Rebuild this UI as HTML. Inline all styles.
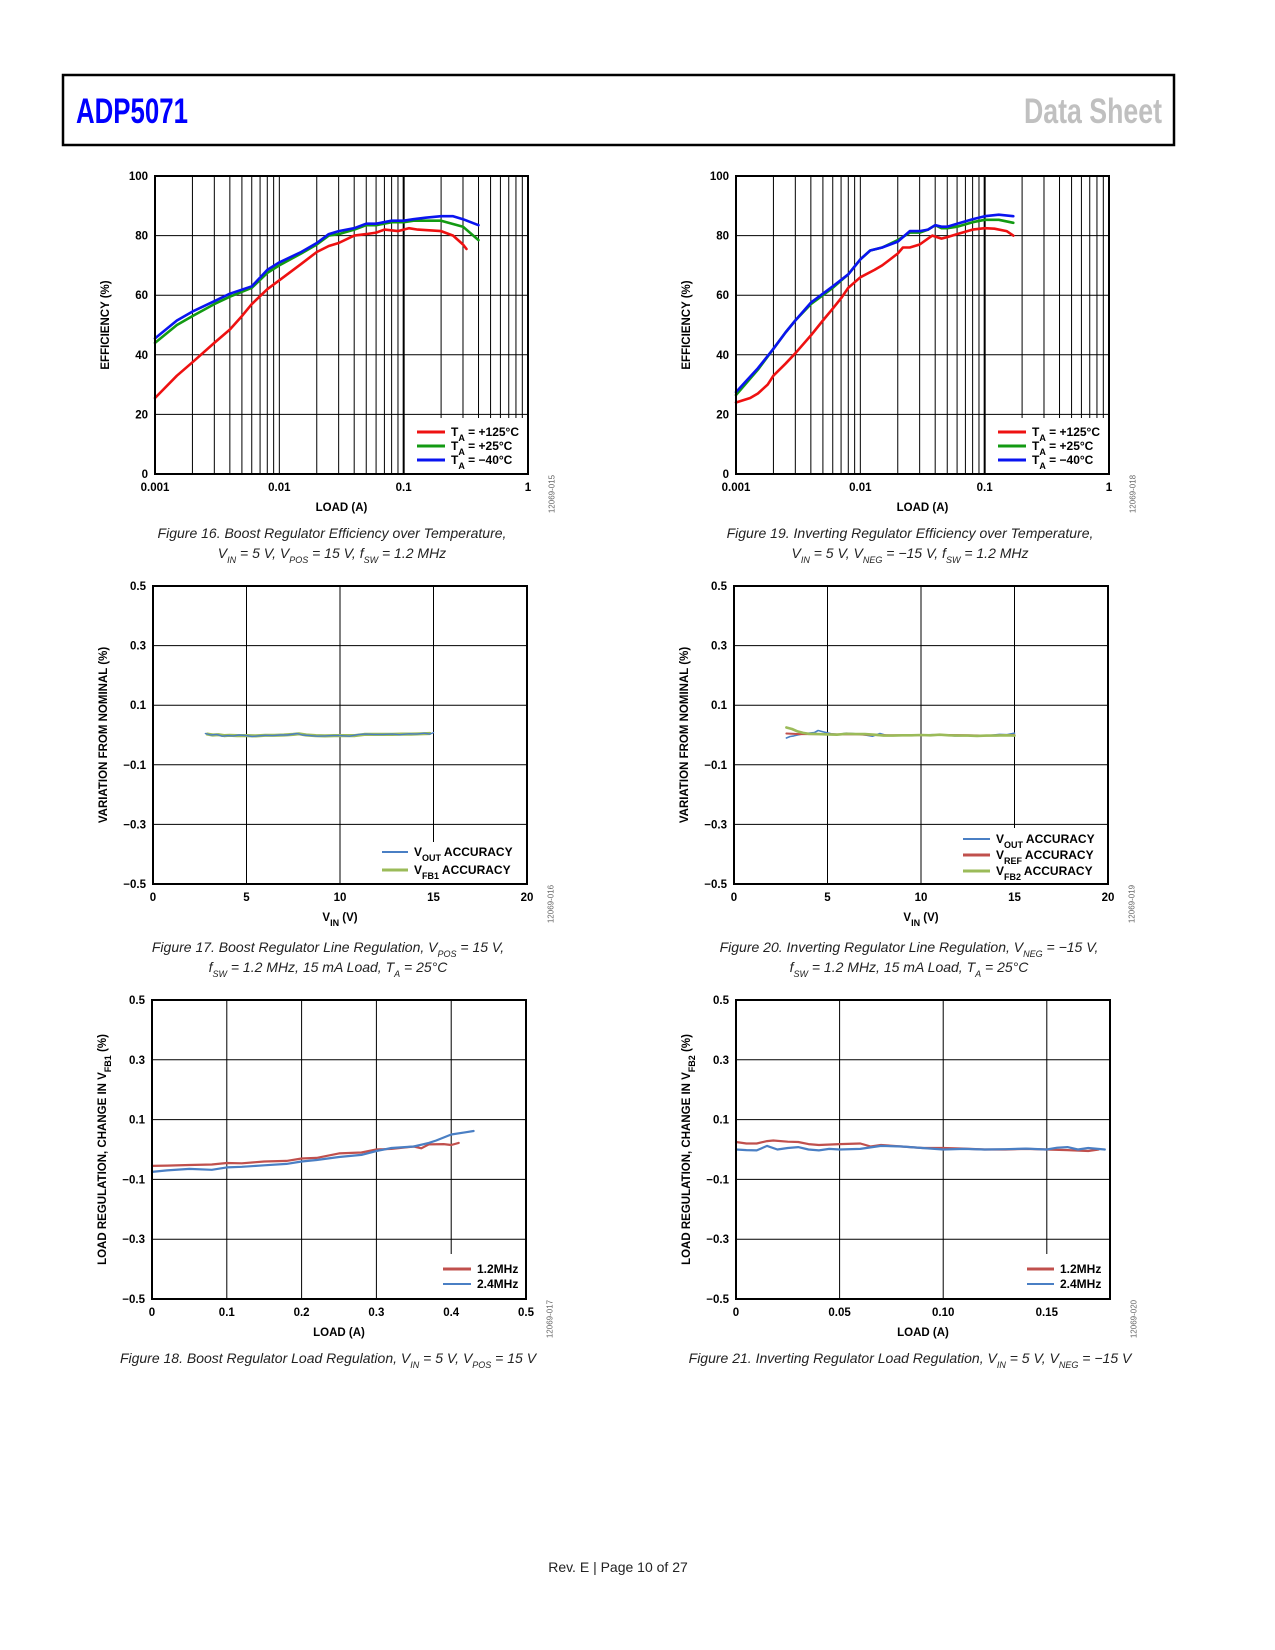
<!DOCTYPE html>
<html><head><meta charset="utf-8"><title>ADP5071 Data Sheet page 10</title>
<style>
html,body{margin:0;padding:0;background:#fff;}
svg{display:block;font-family:"Liberation Sans",Arial,sans-serif;}
.tk{font-size:11.5px;font-weight:bold;fill:#000;}
.at{font-size:11.5px;font-weight:bold;fill:#000;}
.lg{font-size:12px;font-weight:bold;fill:#000;}
.cap{font-size:14px;font-style:italic;fill:#222;}
.code{font-size:8px;fill:#666;}
</style></head>
<body>
<svg id="page" width="1275" height="1650" viewBox="0 0 1275 1650" xmlns="http://www.w3.org/2000/svg">
  <rect x="63" y="75" width="1111" height="70" fill="#fff" stroke="#000" stroke-width="2.5"/>
  <text x="76" y="123" font-size="35" font-weight="bold" fill="#0000ff" textLength="112" lengthAdjust="spacingAndGlyphs">ADP5071</text>
  <text x="1024" y="123" font-size="35" font-weight="bold" fill="#c0c0c0" textLength="138" lengthAdjust="spacingAndGlyphs">Data Sheet</text>

  <text class="cap" text-anchor="middle"><tspan x="332" y="538">Figure 16. Boost Regulator Efficiency over Temperature,</tspan><tspan x="332" y="558">V<tspan font-size="9" baseline-shift="sub">IN</tspan> = 5 V, V<tspan font-size="9" baseline-shift="sub">POS</tspan> = 15 V, f<tspan font-size="9" baseline-shift="sub">SW</tspan> = 1.2 MHz</tspan></text>
  <text class="cap" text-anchor="middle"><tspan x="910" y="538">Figure 19. Inverting Regulator Efficiency over Temperature,</tspan><tspan x="910" y="558">V<tspan font-size="9" baseline-shift="sub">IN</tspan> = 5 V, V<tspan font-size="9" baseline-shift="sub">NEG</tspan> = −15 V, f<tspan font-size="9" baseline-shift="sub">SW</tspan> = 1.2 MHz</tspan></text>
  <text class="cap" text-anchor="middle"><tspan x="328" y="952">Figure 17. Boost Regulator Line Regulation, V<tspan font-size="9" baseline-shift="sub">POS</tspan> = 15 V,</tspan><tspan x="328" y="972">f<tspan font-size="9" baseline-shift="sub">SW</tspan> = 1.2 MHz, 15 mA Load, T<tspan font-size="9" baseline-shift="sub">A</tspan> = 25°C</tspan></text>
  <text class="cap" text-anchor="middle"><tspan x="909" y="952">Figure 20. Inverting Regulator Line Regulation, V<tspan font-size="9" baseline-shift="sub">NEG</tspan> = −15 V,</tspan><tspan x="909" y="972">f<tspan font-size="9" baseline-shift="sub">SW</tspan> = 1.2 MHz, 15 mA Load, T<tspan font-size="9" baseline-shift="sub">A</tspan> = 25°C</tspan></text>
  <text class="cap" text-anchor="middle" x="328" y="1363">Figure 18. Boost Regulator Load Regulation, V<tspan font-size="9" baseline-shift="sub">IN</tspan> = 5 V, V<tspan font-size="9" baseline-shift="sub">POS</tspan> = 15 V</text>
  <text class="cap" text-anchor="middle" x="910" y="1363">Figure 21. Inverting Regulator Load Regulation, V<tspan font-size="9" baseline-shift="sub">IN</tspan> = 5 V, V<tspan font-size="9" baseline-shift="sub">NEG</tspan> = −15 V</text>

  <text x="618" y="1572" text-anchor="middle" font-size="14" fill="#222">Rev. E | Page 10 of 27</text>
</svg>
<script>
// ---------- Figure 16 data (boost efficiency) ----------
const eff1RedX=[0.001,0.0015,0.002,0.003,0.004,0.005,0.006,0.008,0.01,0.015,0.02,0.025,0.03,0.04,0.05,0.06,0.07,0.09,0.11,0.13,0.2,0.25,0.3,0.32];
const eff1RedY=[25.5,33,37.5,44,48.5,53,57,62,65,70.5,74.5,76.5,77.5,80,80.5,81,82,81.5,82.5,82,81.5,80,77,75.5];
const eff1GreenX=[0.001,0.0015,0.002,0.003,0.004,0.006,0.008,0.01,0.015,0.02,0.025,0.03,0.04,0.05,0.06,0.08,0.1,0.12,0.15,0.2,0.3,0.4];
const eff1GreenY=[44,50,53,57,59.5,62.5,67.5,70,74,77,80,80.5,82,83.5,83.5,84.5,84.5,85,85,85,83,78.5];
const eff1BlueX=[0.001,0.0015,0.002,0.003,0.004,0.006,0.008,0.01,0.015,0.02,0.025,0.03,0.04,0.05,0.06,0.08,0.1,0.12,0.15,0.2,0.25,0.3,0.4];
const eff1BlueY=[45.5,51.5,54.5,58,60.5,63,68.5,71,74.5,77.5,80.5,81.5,82.5,84,84,85,85,85.5,86,86.5,86.5,85.5,83.5];
// ---------- Figure 19 data (inverting efficiency) ----------
const eff2RedX=[0.001,0.0013,0.0015,0.0018,0.002,0.0025,0.003,0.004,0.005,0.006,0.007,0.008,0.01,0.013,0.015,0.02,0.022,0.025,0.03,0.035,0.038,0.045,0.05,0.06,0.08,0.1,0.12,0.15,0.17];
const eff2RedY=[24,25.5,27,30,33,37,40.5,46.5,51.5,55.5,59,62.5,66,68.5,70,74,76,76,77,79,80,79,79.5,80.5,82,82.5,82.3,81.5,80];
const eff2GreenX=[0.001,0.0015,0.002,0.0025,0.003,0.004,0.005,0.006,0.008,0.01,0.012,0.015,0.02,0.025,0.03,0.035,0.04,0.045,0.05,0.06,0.08,0.1,0.13,0.17];
const eff2GreenY=[26.5,35,42,47.5,51.5,57,60,62.5,67,72,75,76,78.5,81,81,82,83.5,82.5,82.5,83,84.5,85.3,85.3,84.3];
const eff2BlueX=[0.001,0.0015,0.002,0.0025,0.003,0.004,0.005,0.006,0.008,0.01,0.012,0.015,0.02,0.025,0.03,0.035,0.04,0.045,0.05,0.06,0.08,0.1,0.13,0.17];
const eff2BlueY=[27.5,35.5,42,47.5,51.5,57.5,60.5,63,67,72,75,76,78,81.5,81.5,82,83.5,83,83,84,85.5,86.5,87,86.5];
// ---------- Figure 17 data (boost line regulation) ----------
const line1VoutX=[2.8,3.1,3.4,3.7,4.0,4.3,4.6,5.0,5.3,5.6,6.0,6.4,6.8,7.2,7.7,8.0,8.4,8.8,9.2,9.6,10.0,10.5,11.0,11.4,11.8,12.3,12.8,13.2,13.7,14.1,14.5,14.8,15.0];
const line1VoutY=[0.005,0.0,0.002,-0.004,-0.002,-0.003,0.0,-0.002,-0.005,-0.003,-0.001,-0.002,0.0,0.0,0.005,0.0,-0.002,-0.004,-0.003,-0.002,-0.002,-0.004,0.002,0.003,0.002,0.002,0.003,0.001,0.004,0.003,0.006,0.003,0.008];
const line1Vfb1X=[2.9,3.2,3.5,3.8,4.1,4.5,5.0,5.5,6.0,6.5,7.0,7.5,7.8,8.2,8.7,9.2,9.7,10.2,10.8,11.3,11.8,12.3,12.8,13.3,13.8,14.3,14.8];
const line1Vfb1Y=[0.003,0.0,0.001,-0.002,-0.001,-0.002,-0.002,-0.003,-0.001,-0.001,0.0,0.002,0.004,0.0,-0.002,-0.003,-0.002,-0.002,-0.002,0.002,0.002,0.002,0.002,0.003,0.003,0.004,0.005];
// ---------- Figure 20 data (inverting line regulation) ----------
const line2VoutX=[2.8,3.0,3.2,3.4,3.7,4.0,4.3,4.5,4.8,5.2,5.6,6.0,6.5,7.0,7.4,7.8,8.2,8.8,9.4,10.0,10.6,11.2,11.8,12.4,13.0,13.6,14.2,14.6,15.0];
const line2VoutY=[-0.01,-0.005,-0.003,0.0,0.004,0.006,0.008,0.015,0.01,0.004,0.002,0.006,0.004,0.0,-0.004,0.005,-0.002,-0.002,0.0,0.0,0.001,0.0,-0.003,-0.002,-0.004,-0.002,0.002,0.001,0.006];
const line2VrefX=[2.8,3.5,4.5,5.5,6.5,7.5,8.5,9.5,10.5,11.5,12.5,13.5,14.5,15.0];
const line2VrefY=[0.005,0.003,0.003,0.002,0.002,0.0,-0.001,-0.001,0.0,0.0,-0.001,-0.002,-0.001,0.0];
const line2Vfb2X=[2.8,3.1,3.4,3.7,4.0,4.5,5.0,5.5,6.0,6.5,7.0,7.5,8.0,8.5,9.0,9.5,10.0,10.5,11.0,11.5,12.0,12.5,13.0,13.5,14.0,14.5,15.0];
const line2Vfb2Y=[0.025,0.02,0.012,0.007,0.004,0.003,0.002,0.001,0.004,0.003,0.003,0.001,-0.002,-0.002,-0.001,-0.001,0.0,-0.001,0.001,-0.001,-0.002,-0.002,-0.003,-0.002,-0.002,-0.001,-0.002];
// ---------- Figure 18 data (boost load regulation) ----------
const load1RedX=[0,0.02,0.05,0.08,0.1,0.12,0.15,0.18,0.2,0.22,0.25,0.28,0.3,0.32,0.35,0.36,0.37,0.39,0.4,0.41];
const load1RedY=[-0.055,-0.054,-0.052,-0.05,-0.045,-0.046,-0.04,-0.038,-0.03,-0.028,-0.013,-0.01,0.0,0.002,0.01,0.004,0.017,0.018,0.015,0.022];
const load1BlueX=[0,0.02,0.05,0.08,0.1,0.12,0.15,0.18,0.2,0.22,0.25,0.28,0.3,0.32,0.35,0.37,0.38,0.4,0.42,0.43];
const load1BlueY=[-0.075,-0.07,-0.065,-0.068,-0.06,-0.058,-0.053,-0.048,-0.04,-0.035,-0.025,-0.018,-0.005,0.005,0.01,0.022,0.03,0.05,0.058,0.062];
// ---------- Figure 21 data (inverting load regulation) ----------
const load2RedX=[0,0.005,0.01,0.015,0.018,0.025,0.03,0.035,0.04,0.05,0.06,0.065,0.07,0.08,0.09,0.1,0.11,0.12,0.13,0.14,0.15,0.16,0.17,0.175];
const load2RedY=[0.025,0.02,0.02,0.028,0.03,0.026,0.025,0.018,0.015,0.018,0.02,0.01,0.015,0.01,0.005,0.005,0.003,0.0,0.0,0.002,0.0,-0.002,-0.005,0.0];
const load2BlueX=[0,0.005,0.01,0.015,0.02,0.025,0.03,0.035,0.04,0.045,0.05,0.06,0.07,0.08,0.09,0.1,0.11,0.12,0.13,0.14,0.15,0.155,0.16,0.165,0.17,0.178];
const load2BlueY=[0.0,-0.002,-0.003,0.012,0.0,0.005,0.008,0.0,-0.003,0.002,0.0,0.002,0.012,0.01,0.005,0.0,0.002,0.0,0.001,0.003,0.0,0.006,0.008,0.0,0.005,0.0];

const effYTicks=[0,20,40,60,80,100];
const logXTicks=[0.001,0.01,0.1,1];
const regYTicks=[-0.5,-0.3,-0.1,0.1,0.3,0.5];
const vinXTicks=[0,5,10,15,20];
const load1XTicks=[0,0.1,0.2,0.3,0.4,0.5];
const load2XTicks=[0,0.05,0.10,0.15];
const load2XLabels=['0','0.05','0.10','0.15'];
const regYLabels=['−0.5','−0.3','−0.1','0.1','0.3','0.5'];

const NS='http://www.w3.org/2000/svg';
const svg=document.getElementById('page');
function mk(tag,attrs,parent){const e=document.createElementNS(NS,tag);for(const k in attrs)e.setAttribute(k,attrs[k]);(parent||svg).appendChild(e);return e;}

function drawChart(c){
  const g=mk('g',{});
  
  
  const sx=c.xlog?(v=>c.l+(Math.log10(v)-Math.log10(c.xmin))/(Math.log10(c.xmax)-Math.log10(c.xmin))*(c.r-c.l))
                 :(v=>c.l+(v-c.xmin)/(c.xmax-c.xmin)*(c.r-c.l));
  const sy=v=>c.b-(v-c.ymin)/(c.ymax-c.ymin)*(c.b-c.t);
  const grid=mk('g',{stroke:'#000'},g);
  
  
  let vx=[];
  if(c.xlog){for(let d=Math.log10(c.xmin);d<Math.log10(c.xmax);d++){for(let k=1;k<10;k++){const v=k*Math.pow(10,d);if(v>c.xmin*1.0001)vx.push([v,k===1]);}}}
  else{c.xgrid.forEach(v=>{if(v>c.xmin&&v<c.xmax)vx.push([v,true]);});}
  vx.forEach(([v,maj])=>{const x=sx(v);mk('line',{x1:x,x2:x,y1:c.t,y2:c.b,'stroke-width':(c.xlog&&Math.abs(v-0.1)<1e-9)?2:1},grid);});
  c.yticks.forEach(v=>{if(v>c.ymin&&v<c.ymax){const y=sy(v);mk('line',{x1:c.l,x2:c.r,y1:y,y2:y,'stroke-width':1},grid);}});
  mk('rect',{x:c.leg.bx,y:c.leg.by,width:c.r-c.leg.bx,height:c.b-c.leg.by,fill:'#fff'},g);
  c.series.forEach(s=>{
    const pts=s.x.map((v,i)=>sx(v).toFixed(1)+','+sy(s.y[i]).toFixed(1)).join(' ');
    const p=mk('polyline',{points:pts,fill:'none',stroke:s.color,'stroke-width':s.w,'stroke-linejoin':'round','stroke-linecap':'round'},g);
    
    
  });
  const fr=mk('rect',{x:c.l,y:c.t,width:c.r-c.l,height:c.b-c.t,fill:'none',stroke:'#000','stroke-width':2},g);
  
  
  c.yticks.forEach((v,i)=>{const t=mk('text',{x:c.l-7,y:sy(v)+4,'text-anchor':'end',class:'tk'},g);t.textContent=c.ylabels?c.ylabels[i]:String(v);
    
    });
  c.xticks.forEach((v,i)=>{const t=mk('text',{x:sx(v),y:c.b+17,'text-anchor':'middle',class:'tk'},g);t.textContent=c.xlabels?c.xlabels[i]:String(v);
    
    });
  const xt=mk('text',{x:(c.l+c.r)/2,y:c.b+37,'text-anchor':'middle',class:'at'},g);xt.innerHTML=c.xtitle;
  
  
  const ym=(c.t+c.b)/2, yx=c.l-49;
  const yt=mk('text',{x:yx,y:ym,'text-anchor':'middle','dominant-baseline':'central',transform:`rotate(-90 ${yx} ${ym})`,class:'at'},g);yt.innerHTML=c.ytitle;
  
  
  const cx=c.r+24, cy=c.b+20;
  const cd=mk('text',{x:cx,y:cy,'text-anchor':'middle','dominant-baseline':'central',transform:`rotate(-90 ${cx} ${cy})`,class:'code'},g);cd.textContent=c.code;
  
  
  c.leg.items.forEach((it,i)=>{
    const y=c.leg.y0+i*c.leg.dy;
    const ln=mk('line',{x1:c.leg.x1,x2:c.leg.x2,y1:y,y2:y,stroke:it.color,'stroke-width':it.w},g);
    
    
    const t=mk('text',{x:c.leg.x2+6,y:y+4,class:'lg'},g);t.innerHTML=it.label;
    
    
  });
}
const sub=s=>`<tspan font-size="9" baseline-shift="sub">${s}</tspan>`;
const RED='#ee1111',GRN='#139a13',BLU='#0a14f0';
const effLeg=(bx,x1)=>({bx:bx,by:418,x1:x1,x2:x1+28,y0:432,dy:14,items:[
  {color:RED,w:3,label:`T${sub('A')} = +125°C`},{color:GRN,w:3,label:`T${sub('A')} = +25°C`},{color:BLU,w:3,label:`T${sub('A')} = −40°C`}]});

drawChart({name:'boost-efficiency-chart',l:155,r:528,t:176,b:474,xlog:true,xmin:0.001,xmax:1,ymin:0,ymax:100,
  yticks:effYTicks,xticks:logXTicks,xtitle:'LOAD (A)',ytitle:'EFFICIENCY (%)',code:'12069-015',
  series:[{name:'series-125c',x:eff1RedX,y:eff1RedY,color:RED,w:2.6},{name:'series-25c',x:eff1GreenX,y:eff1GreenY,color:GRN,w:2.6},{name:'series-minus40c',x:eff1BlueX,y:eff1BlueY,color:BLU,w:2.6}],
  leg:effLeg(413,417)});
drawChart({name:'inverting-efficiency-chart',l:736,r:1109,t:176,b:474,xlog:true,xmin:0.001,xmax:1,ymin:0,ymax:100,
  yticks:effYTicks,xticks:logXTicks,xtitle:'LOAD (A)',ytitle:'EFFICIENCY (%)',code:'12069-018',
  series:[{name:'series-125c',x:eff2RedX,y:eff2RedY,color:RED,w:2.6},{name:'series-25c',x:eff2GreenX,y:eff2GreenY,color:GRN,w:2.6},{name:'series-minus40c',x:eff2BlueX,y:eff2BlueY,color:BLU,w:2.6}],
  leg:effLeg(994,998)});

const RB='#4a7fc4',RR='#c0504d',RG='#9bbb59';
drawChart({name:'boost-line-regulation-chart',l:153,r:527,t:586,b:884,xlog:false,xmin:0,xmax:20,ymin:-0.5,ymax:0.5,xgrid:vinXTicks,
  yticks:regYTicks,ylabels:regYLabels,xticks:vinXTicks,xtitle:`V${sub('IN')} (V)`,ytitle:'VARIATION FROM NOMINAL (%)',code:'12069-016',
  series:[{name:'series-vfb1-accuracy',x:line1Vfb1X,y:line1Vfb1Y,color:RG,w:3.2},{name:'series-vout-accuracy',x:line1VoutX,y:line1VoutY,color:RB,w:1.4}],
  leg:{bx:377,by:842,x1:382,x2:408,y0:852,dy:18,items:[{color:RB,w:2,label:`V${sub('OUT')} ACCURACY`},{color:RG,w:3,label:`V${sub('FB1')} ACCURACY`}]}});
drawChart({name:'inverting-line-regulation-chart',l:734,r:1108,t:586,b:884,xlog:false,xmin:0,xmax:20,ymin:-0.5,ymax:0.5,xgrid:vinXTicks,
  yticks:regYTicks,ylabels:regYLabels,xticks:vinXTicks,xtitle:`V${sub('IN')} (V)`,ytitle:'VARIATION FROM NOMINAL (%)',code:'12069-019',
  series:[{name:'series-vout-accuracy',x:line2VoutX,y:line2VoutY,color:RB,w:1.6},{name:'series-vref-accuracy',x:line2VrefX,y:line2VrefY,color:RR,w:2},{name:'series-vfb2-accuracy',x:line2Vfb2X,y:line2Vfb2Y,color:RG,w:2.6}],
  leg:{bx:958,by:828,x1:963,x2:990,y0:839,dy:16,items:[{color:RB,w:2,label:`V${sub('OUT')} ACCURACY`},{color:RR,w:3,label:`V${sub('REF')} ACCURACY`},{color:RG,w:3,label:`V${sub('FB2')} ACCURACY`}]}});

drawChart({name:'boost-load-regulation-chart',l:152,r:526,t:1000,b:1299,xlog:false,xmin:0,xmax:0.5,ymin:-0.5,ymax:0.5,xgrid:load1XTicks,
  yticks:regYTicks,ylabels:regYLabels,xticks:load1XTicks,xtitle:'LOAD (A)',ytitle:`LOAD REGULATION, CHANGE IN V${sub('FB1')} (%)`,code:'12069-017',
  series:[{name:'series-1p2mhz',x:load1RedX,y:load1RedY,color:RR,w:2.2},{name:'series-2p4mhz',x:load1BlueX,y:load1BlueY,color:RB,w:2.2}],
  leg:{bx:438,by:1254,x1:443,x2:471,y0:1269,dy:15,items:[{color:RR,w:3,label:'1.2MHz'},{color:RB,w:2,label:'2.4MHz'}]}});
drawChart({name:'inverting-load-regulation-chart',l:736,r:1110,t:1000,b:1299,xlog:false,xmin:0,xmax:0.1805,ymin:-0.5,ymax:0.5,xgrid:load2XTicks,
  yticks:regYTicks,ylabels:regYLabels,xticks:load2XTicks,xlabels:load2XLabels,xtitle:'LOAD (A)',ytitle:`LOAD REGULATION, CHANGE IN V${sub('FB2')} (%)`,code:'12069-020',
  series:[{name:'series-1p2mhz',x:load2RedX,y:load2RedY,color:RR,w:2.2},{name:'series-2p4mhz',x:load2BlueX,y:load2BlueY,color:RB,w:2.2}],
  leg:{bx:1022,by:1254,x1:1027,x2:1054,y0:1269,dy:15,items:[{color:RR,w:3,label:'1.2MHz'},{color:RB,w:2,label:'2.4MHz'}]}});
</script>
</body></html>
